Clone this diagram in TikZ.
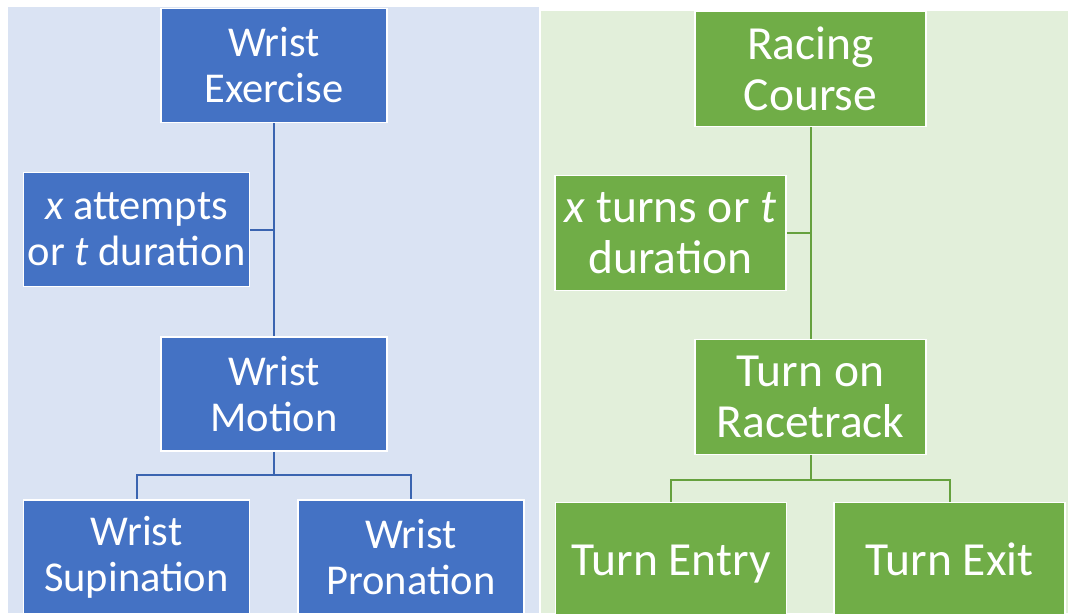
\documentclass[tikz,border=0pt]{standalone}
\usepackage{fontspec}
\setmainfont{Carlito}
\definecolor{panelblue}{HTML}{DAE3F3}
\definecolor{panelgreen}{HTML}{E2EFDA}
\definecolor{boxblue}{HTML}{4472C4}
\definecolor{boxgreen}{HTML}{70AD47}
\definecolor{lineblue}{HTML}{3A64B0}
\definecolor{linegreen}{HTML}{66A13E}
\tikzset{
  card/.style={draw=white, line width=1.6pt, text=white, align=center,
    inner sep=0pt, minimum width=#1},
  bluecard/.style={card=226pt, fill=boxblue, minimum height=114pt,
    font=\fontsize{42.5}{46}\selectfont},
  greencard/.style={card=231pt, fill=boxgreen, minimum height=115pt,
    font=\fontsize{47.5}{51}\selectfont},
  oneline/.style={text height=30pt, text depth=0pt},
  blueline/.style={draw=lineblue, line width=2pt},
  greenline/.style={draw=linegreen, line width=2pt},
}
\begin{document}
\begin{tikzpicture}[x=1pt, y=-1pt]
\useasboundingbox (0,0) rectangle (1068,613);
\clip (0,0) rectangle (1068,613);
% panels
\fill[white] (0,0) rectangle (1068,613);
\fill[panelblue] (8,7) rectangle (539,613);
\fill[panelgreen] (541,11) rectangle (1068,613);

% left tree
\node[bluecard] (we) at (274,65.5) {Wrist\\Exercise};
\node[bluecard] (xa) at (136.5,229.5) {\textit{x} attempts\\or \textit{t} duration};
\node[bluecard] (wm) at (274,394) {Wrist\\Motion};
\node[bluecard] (ws) at (136.5,557) {Wrist\\Supination};
\node[bluecard] (wp) at (411,557) {Wrist\\Pronation};

\draw[blueline] (we.south) -- (wm.north);
\draw[blueline] (xa.east) -- (xa.east -| we.south);
\draw[blueline] (wm.south) -- ++(0,24);
\draw[blueline] (ws.north) -- ++(0,-24) -| (wp.north);

% right tree
\node[greencard] (rc) at (810.5,69) {Racing\\Course};
\node[greencard] (xt) at (670.5,233) {\textit{x} turns or \textit{t}\\duration};
\node[greencard] (tr) at (810.5,397) {Turn on\\Racetrack};
\node[greencard, oneline] (te) at (671,560) {Turn Entry};
\node[greencard, oneline] (tx) at (949.5,560) {Turn Exit};

\draw[greenline] (rc.south) -- (tr.north);
\draw[greenline] (xt.east) -- (xt.east -| rc.south);
\draw[greenline] (tr.south) -- ++(0,25);
\draw[greenline] (te.north) -- ++(0,-22) -| (tx.north);
\end{tikzpicture}
\end{document}
